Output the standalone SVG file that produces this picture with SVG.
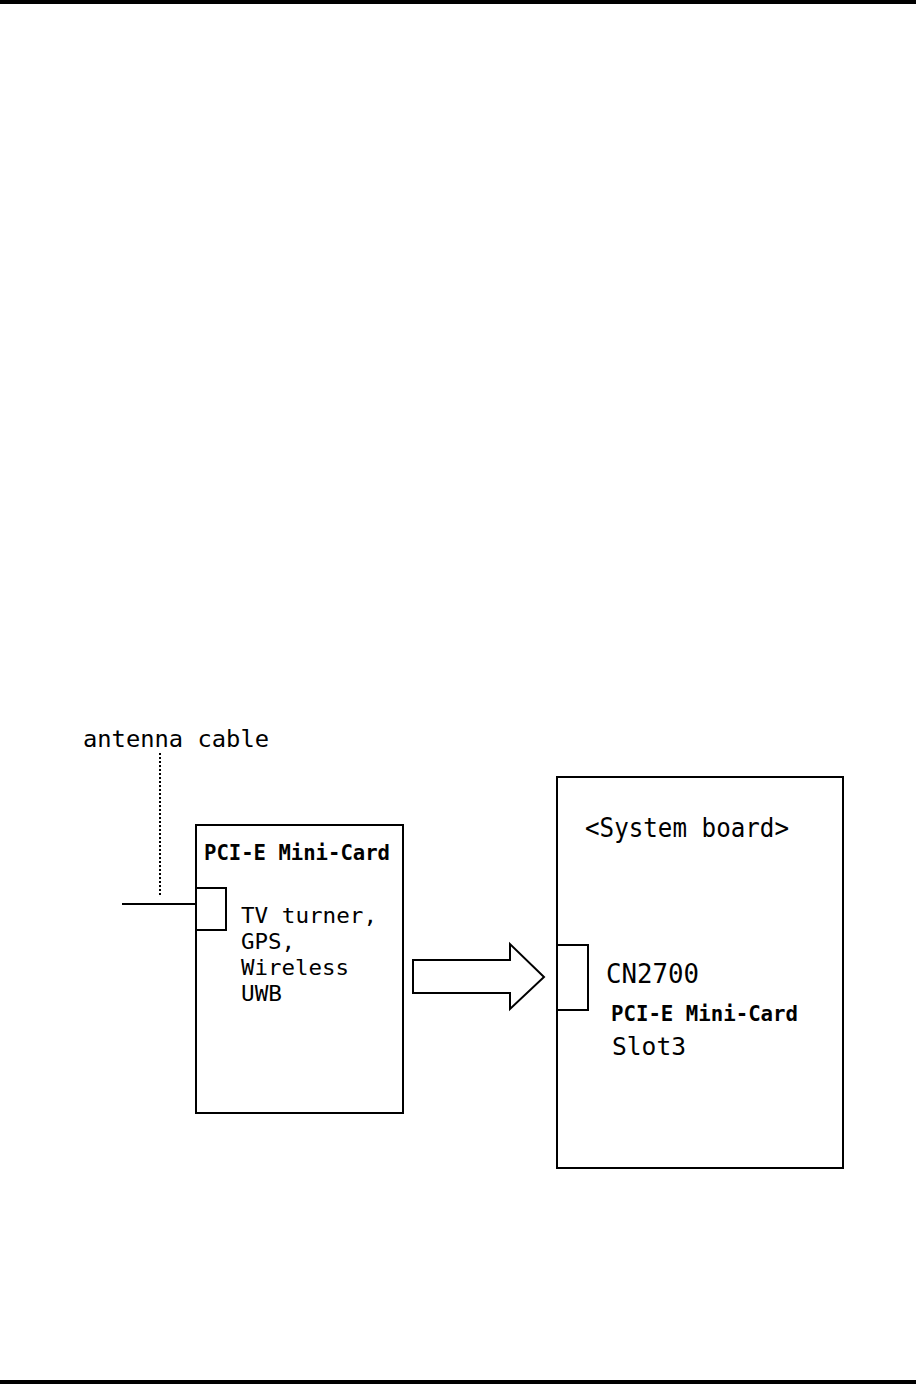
<svg xmlns="http://www.w3.org/2000/svg" width="916" height="1384" viewBox="0 0 916 1384">
<style>
.box{fill:#fff;stroke:#000;stroke-width:2}
.ln{fill:none;stroke:#000;stroke-width:2}
.t{font-family:"DejaVu Sans Mono","Liberation Mono",monospace;fill:#000}
.b{font-family:"DejaVu Sans Mono","Liberation Mono",monospace;font-weight:bold;fill:#000}
</style>
<rect x="0" y="0" width="916" height="4" fill="#000"/>
<rect x="0" y="1380" width="916" height="4" fill="#000"/>
<g id="antenna-label">
<text class="t" x="83" y="747" font-size="23" textLength="186" lengthAdjust="spacingAndGlyphs">antenna cable</text>
</g>
<g id="mini-card">
<rect class="box" x="196" y="825" width="207" height="288"/>
<rect class="box" x="196" y="888" width="30" height="42"/>
<text class="b" x="204" y="860" font-size="20.5" textLength="186" lengthAdjust="spacingAndGlyphs">PCI-E Mini-Card</text>
<text class="t" x="241" y="923" font-size="22" textLength="136" lengthAdjust="spacingAndGlyphs">TV turner,</text>
<text class="t" x="241" y="949" font-size="22" textLength="54" lengthAdjust="spacingAndGlyphs">GPS,</text>
<text class="t" x="241" y="975" font-size="22" textLength="108" lengthAdjust="spacingAndGlyphs">Wireless</text>
<text class="t" x="241" y="1001" font-size="22" textLength="41" lengthAdjust="spacingAndGlyphs">UWB</text>
</g>
<g id="system-board">
<rect class="box" x="557" y="777" width="286" height="391"/>
<rect class="box" x="557" y="945" width="31" height="65"/>
<text class="t" x="585" y="837" font-size="26" textLength="204" lengthAdjust="spacingAndGlyphs">&lt;System board&gt;</text>
<text class="t" x="606" y="983" font-size="26" textLength="93" lengthAdjust="spacingAndGlyphs">CN2700</text>
<text class="b" x="611" y="1021" font-size="21" textLength="187" lengthAdjust="spacingAndGlyphs">PCI-E Mini-Card</text>
<text class="t" x="612" y="1055" font-size="25" textLength="74" lengthAdjust="spacingAndGlyphs">Slot3</text>
</g>
<g id="connectors">
<line class="ln" x1="122" y1="904" x2="196" y2="904"/>
<line x1="160" y1="753" x2="160" y2="897" stroke="#000" stroke-width="2" stroke-dasharray="2 2"/>
<polygon class="ln" points="413,960 510,960 510,944 544,977 510,1009 510,993 413,993" stroke-width="1.8"/>
</g>
</svg>
